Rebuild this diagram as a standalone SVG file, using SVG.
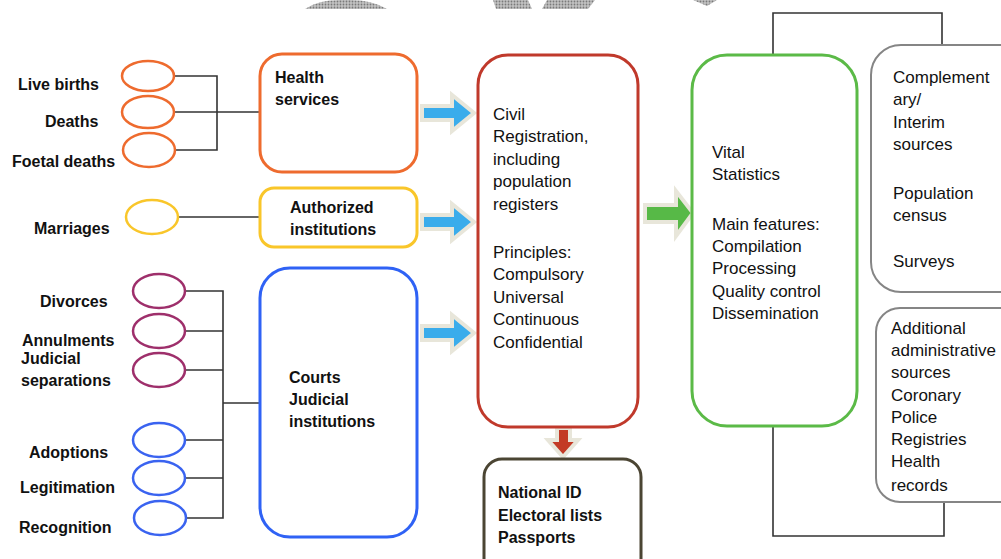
<svg xmlns="http://www.w3.org/2000/svg" width="1001" height="559" viewBox="0 0 1001 559">
<style>
.lbl{font-family:"Liberation Sans",Arial,sans-serif;font-weight:bold;font-size:16px;fill:#111}
.txt{font-family:"Liberation Sans",Arial,sans-serif;font-size:17px;fill:#111}
.box{fill:#fff;stroke-width:3}
.ell{fill:#fff;stroke-width:2.5}
.conn{fill:none;stroke:#333;stroke-width:1.6}
.arr{stroke:#E8E6DA;stroke-width:4;stroke-linejoin:miter}
.gray{fill:#fff;stroke:#858585;stroke-width:2}
</style>
<defs>
<pattern id="dots" width="3" height="3" patternUnits="userSpaceOnUse">
<rect width="3" height="3" fill="#c2c2c2"/>
<circle cx="1.5" cy="1.5" r="0.9" fill="#7a7a7a"/>
</pattern>
</defs>
<rect width="1001" height="559" fill="#fff"/>
<g id="topshapes" fill="url(#dots)">
<path d="M305,9 L387,9 Q372,0 350,0 L340,0 Q318,0 305,9 Z"/>
<polygon points="493,0 528,0 532,9 496,9"/>
<polygon points="547,0 595,0 588,9 542,9"/>
<polygon points="693,0 717,0 707,6"/>
</g>
<g id="connectors">
<polyline class="conn" points="173,76 217,76 217,150 173,150"/>
<line class="conn" x1="174" y1="112" x2="260" y2="112"/>
<line class="conn" x1="178" y1="217" x2="260" y2="217"/>
<polyline class="conn" points="185,291 223,291 223,518 185,518"/>
<line class="conn" x1="185" y1="331" x2="223" y2="331"/>
<line class="conn" x1="185" y1="370" x2="223" y2="370"/>
<line class="conn" x1="185" y1="440" x2="223" y2="440"/>
<line class="conn" x1="185" y1="478" x2="223" y2="478"/>
<line class="conn" x1="223" y1="403" x2="260" y2="403"/>
<polyline class="conn" points="773,55 773,13 942,13 942,45"/>
<polyline class="conn" points="773,426 773,536 944,536 944,502"/>
<polygon class="arr" fill="#3AACEB" points="422,106 452,106 452,95 474,113 452,131 452,120 422,120"/>
<polygon class="arr" fill="#3AACEB" points="422,215 452,215 452,204 474,222 452,240 452,229 422,229"/>
<polygon class="arr" fill="#3AACEB" points="422,326 452,326 452,315 474,333 452,351 452,340 422,340"/>
<polygon class="arr" fill="#57B947" points="645,205 676,205 676,191 693,213 676,236 676,222 645,222"/>
<polygon class="arr" fill="#C33A25" points="557,428 570,428 570,440 578,440 563,457 548,440 557,440"/>
</g>
<g id="births">
<ellipse class="ell" stroke="#EE6B2E" cx="148" cy="76" rx="26" ry="15"/>
<text class="lbl" x="18" y="90">Live births</text>
</g>
<g id="deaths">
<ellipse class="ell" stroke="#EE6B2E" cx="148" cy="112" rx="26" ry="16"/>
<text class="lbl" x="45" y="127">Deaths</text>
</g>
<g id="foetal">
<ellipse class="ell" stroke="#EE6B2E" cx="149" cy="150" rx="26" ry="17"/>
<text class="lbl" x="12" y="167">Foetal deaths</text>
</g>
<g id="marriages">
<ellipse class="ell" stroke="#F9C62A" cx="152" cy="217" rx="26" ry="17"/>
<text class="lbl" x="34" y="234">Marriages</text>
</g>
<g id="divorces">
<ellipse class="ell" stroke="#9E2F6B" cx="159" cy="291" rx="26" ry="17"/>
<text class="lbl" x="40" y="307">Divorces</text>
</g>
<g id="annulments">
<ellipse class="ell" stroke="#9E2F6B" cx="159" cy="331" rx="26" ry="17"/>
<text class="lbl" x="22" y="346">Annulments</text>
</g>
<g id="separations">
<ellipse class="ell" stroke="#9E2F6B" cx="159" cy="370" rx="26" ry="17"/>
<text class="lbl" x="21" y="364">Judicial</text>
<text class="lbl" x="21" y="386">separations</text>
</g>
<g id="adoptions">
<ellipse class="ell" stroke="#3A63F0" cx="159" cy="440" rx="26" ry="17"/>
<text class="lbl" x="29" y="458">Adoptions</text>
</g>
<g id="legitimation">
<ellipse class="ell" stroke="#3A63F0" cx="159" cy="478" rx="26" ry="17"/>
<text class="lbl" x="20" y="493">Legitimation</text>
</g>
<g id="recognition">
<ellipse class="ell" stroke="#3A63F0" cx="160" cy="518" rx="26" ry="17"/>
<text class="lbl" x="19" y="533">Recognition</text>
</g>
<g id="health">
<rect class="box" stroke="#EE6B2E" x="260" y="54" width="157" height="118" rx="22"/>
<text class="lbl" x="275" y="83">Health</text>
<text class="lbl" x="275" y="105">services</text>
</g>
<g id="authorized">
<rect class="box" stroke="#F9C62A" x="260" y="188" width="157" height="59" rx="14"/>
<text class="lbl" x="290" y="213">Authorized</text>
<text class="lbl" x="290" y="235">institutions</text>
</g>
<g id="courts">
<rect class="box" stroke="#2F62F5" x="260" y="268" width="157" height="269" rx="30"/>
<text class="lbl" x="289" y="383">Courts</text>
<text class="lbl" x="289" y="405">Judicial</text>
<text class="lbl" x="289" y="427">institutions</text>
</g>
<g id="civil">
<rect class="box" stroke="#C0392B" x="478" y="55" width="160" height="372" rx="30"/>
<text class="txt" x="493" y="120">Civil</text>
<text class="txt" x="493" y="142">Registration,</text>
<text class="txt" x="493" y="165">including</text>
<text class="txt" x="493" y="187">population</text>
<text class="txt" x="493" y="210">registers</text>
<text class="txt" x="493" y="258">Principles:</text>
<text class="txt" x="493" y="280">Compulsory</text>
<text class="txt" x="493" y="303">Universal</text>
<text class="txt" x="493" y="325">Continuous</text>
<text class="txt" x="493" y="348">Confidential</text>
</g>
<g id="nationalid">
<rect class="box" stroke="#4B4533" x="484" y="459" width="157" height="120" rx="18"/>
<text class="lbl" x="498" y="498">National ID</text>
<text class="lbl" x="498" y="521">Electoral lists</text>
<text class="lbl" x="498" y="543">Passports</text>
</g>
<g id="vital">
<rect class="box" stroke="#5BBA47" stroke-width="3.5" x="692" y="55" width="165" height="371" rx="35"/>
<text class="txt" x="712" y="158">Vital</text>
<text class="txt" x="712" y="180">Statistics</text>
<text class="txt" x="712" y="230">Main features:</text>
<text class="txt" x="712" y="252">Compilation</text>
<text class="txt" x="712" y="274">Processing</text>
<text class="txt" x="712" y="297">Quality control</text>
<text class="txt" x="712" y="319">Dissemination</text>
</g>
<g id="complementary">
<rect class="gray" x="871" y="45" width="160" height="247" rx="30"/>
<text class="txt" x="893" y="83">Complement</text>
<text class="txt" x="893" y="105">ary/</text>
<text class="txt" x="893" y="128">Interim</text>
<text class="txt" x="893" y="150">sources</text>
<text class="txt" x="893" y="199">Population</text>
<text class="txt" x="893" y="221">census</text>
<text class="txt" x="893" y="267">Surveys</text>
</g>
<g id="additional">
<rect class="gray" x="876" y="308" width="160" height="194" rx="24"/>
<text class="txt" x="891" y="334">Additional</text>
<text class="txt" x="891" y="356">administrative</text>
<text class="txt" x="891" y="378">sources</text>
<text class="txt" x="891" y="401">Coronary</text>
<text class="txt" x="891" y="423">Police</text>
<text class="txt" x="891" y="445">Registries</text>
<text class="txt" x="891" y="467">Health</text>
<text class="txt" x="891" y="491">records</text>
</g>
</svg>
